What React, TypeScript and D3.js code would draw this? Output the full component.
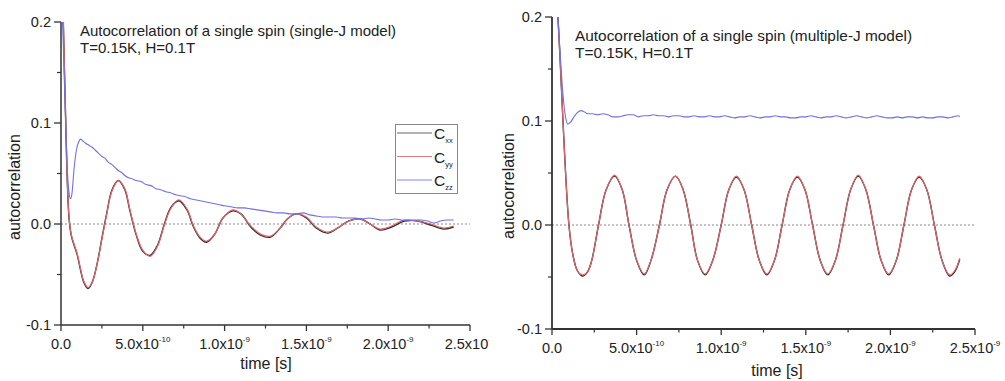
import React from 'react';
import * as d3 from 'd3';

// ---------- data (time in ns, value = autocorrelation) ----------
const xTickValues = [0, 0.5, 1.0, 1.5, 2.0, 2.5];
const xTickMantissa = ['0.0', '5.0x10', '1.0x10', '1.5x10', '2.0x10', '2.5x10'];
const xTickExponent = ['', '-10', '-9', '-9', '-9', '-9'];
const xMinorTicks = [0.25, 0.75, 1.25, 1.75, 2.25];
const yTickValues = [-0.1, 0, 0.1, 0.2];
const yTickLabels = ['-0.1', '0.0', '0.1', '0.2'];
const yMinorTicks = [-0.05, 0.05, 0.15];
const legendSubscripts = ['xx', 'yy', 'zz'];
const titleLeft = ['Autocorrelation of a single spin (single-J model)', 'T=0.15K, H=0.1T'];
const titleRight = ['Autocorrelation of a single spin (multiple-J model)', 'T=0.15K, H=0.1T'];
const xLabel = 'time [s]';
const yLabel = 'autocorrelation';

const leftCxx: [number, number][] = [
  [0, 0.3], [0.02, 0.16], [0.035, 0.06], [0.05, 0.004], [0.065, -0.013], [0.08, -0.021], [0.1, -0.031],
  [0.12, -0.046], [0.14, -0.058], [0.165, -0.064], [0.19, -0.058], [0.22, -0.04], [0.25, -0.014],
  [0.28, 0.011], [0.31, 0.033], [0.35, 0.043], [0.39, 0.034], [0.42, 0.014], [0.46, -0.011],
  [0.5, -0.027], [0.545, -0.031], [0.59, -0.021], [0.63, -0.001], [0.67, 0.016], [0.72, 0.023],
  [0.77, 0.014], [0.81, -0.003], [0.85, -0.014], [0.89, -0.018], [0.94, -0.01], [0.99, 0.006],
  [1.05, 0.013], [1.1, 0.01], [1.16, -0.003], [1.22, -0.011], [1.28, -0.013], [1.34, -0.004],
  [1.39, 0.006], [1.44, 0.01], [1.5, 0.006], [1.56, -0.004], [1.63, -0.009], [1.7, -0.003],
  [1.76, 0.003], [1.83, 0.005], [1.89, 0.0], [1.95, -0.006], [2.02, -0.003], [2.1, 0.003],
  [2.18, 0.003], [2.26, -0.001], [2.34, -0.005], [2.4, -0.003],
];
const leftCyy: [number, number][] = [
  [0, 0.3], [0.02, 0.16], [0.035, 0.06], [0.05, 0.005], [0.065, -0.012], [0.08, -0.02], [0.1, -0.03],
  [0.12, -0.045], [0.14, -0.057], [0.165, -0.063], [0.19, -0.058], [0.22, -0.04], [0.25, -0.015],
  [0.28, 0.01], [0.31, 0.032], [0.35, 0.043], [0.39, 0.035], [0.42, 0.015], [0.46, -0.01],
  [0.5, -0.026], [0.545, -0.032], [0.59, -0.022], [0.63, -0.002], [0.67, 0.015], [0.72, 0.024],
  [0.77, 0.015], [0.81, -0.002], [0.85, -0.013], [0.89, -0.017], [0.94, -0.01], [0.99, 0.006],
  [1.05, 0.014], [1.1, 0.01], [1.16, -0.002], [1.22, -0.01], [1.28, -0.012], [1.34, -0.004],
  [1.39, 0.006], [1.44, 0.01], [1.5, 0.007], [1.56, -0.003], [1.63, -0.008], [1.7, -0.003],
  [1.76, 0.003], [1.83, 0.005], [1.89, 0.0], [1.95, -0.005], [2.02, -0.002], [2.1, 0.004],
  [2.18, 0.003], [2.26, 0.0], [2.34, -0.004], [2.4, -0.002],
];
const leftCzz: [number, number][] = [
  [0, 0.28], [0.01, 0.2], [0.025, 0.12], [0.04, 0.05], [0.05, 0.03], [0.058, 0.025], [0.066, 0.029],
  [0.08, 0.055], [0.095, 0.074], [0.11, 0.082], [0.12, 0.084], [0.135, 0.082], [0.15, 0.08],
  [0.17, 0.078], [0.19, 0.076], [0.21, 0.073], [0.23, 0.07], [0.25, 0.067], [0.27, 0.065],
  [0.29, 0.061], [0.31, 0.059], [0.33, 0.056], [0.35, 0.053], [0.37, 0.051], [0.39, 0.048],
  [0.41, 0.046], [0.43, 0.045], [0.46, 0.043], [0.49, 0.042], [0.52, 0.039], [0.55, 0.038],
  [0.58, 0.035], [0.61, 0.034], [0.64, 0.032], [0.67, 0.031], [0.7, 0.029], [0.73, 0.028],
  [0.76, 0.027], [0.79, 0.025], [0.82, 0.024], [0.85, 0.023], [0.88, 0.022], [0.91, 0.021],
  [0.94, 0.02], [0.97, 0.019], [1.0, 0.018], [1.04, 0.017], [1.08, 0.016], [1.12, 0.016],
  [1.16, 0.015], [1.2, 0.014], [1.24, 0.013], [1.28, 0.012], [1.32, 0.011], [1.36, 0.011],
  [1.4, 0.01], [1.44, 0.01], [1.48, 0.011], [1.52, 0.009], [1.56, 0.008], [1.6, 0.007],
  [1.64, 0.007], [1.68, 0.007], [1.72, 0.006], [1.76, 0.006], [1.8, 0.006], [1.84, 0.005],
  [1.88, 0.006], [1.92, 0.005], [1.96, 0.004], [2.0, 0.004], [2.04, 0.005], [2.08, 0.004],
  [2.12, 0.003], [2.16, 0.004], [2.2, 0.004], [2.24, 0.003], [2.28, 0.001], [2.32, 0.003],
  [2.36, 0.004], [2.4, 0.004],
];

const rightCxx: [number, number][] = [
  [0, 0.29], [0.035, 0.2], [0.1, 0.0], [0.125, -0.03], [0.15, -0.044], [0.18, -0.049], [0.21, -0.045],
  [0.235, -0.034], [0.275, 0.0], [0.32, 0.034], [0.37, 0.047], [0.415, 0.034], [0.455, 0.0],
  [0.5, -0.034], [0.545, -0.048], [0.585, -0.034], [0.635, 0.0], [0.68, 0.034], [0.73, 0.047],
  [0.775, 0.034], [0.82, 0.0], [0.86, -0.034], [0.905, -0.048], [0.95, -0.034], [1.0, 0.0],
  [1.045, 0.034], [1.09, 0.046], [1.135, 0.034], [1.18, 0.0], [1.225, -0.034], [1.27, -0.048],
  [1.315, -0.034], [1.36, 0.0], [1.405, 0.034], [1.45, 0.046], [1.495, 0.034], [1.54, 0.0],
  [1.585, -0.034], [1.63, -0.048], [1.675, -0.034], [1.72, 0.0], [1.765, 0.034], [1.81, 0.047],
  [1.855, 0.034], [1.9, 0.0], [1.945, -0.034], [1.99, -0.048], [2.035, -0.034], [2.08, 0.0],
  [2.125, 0.034], [2.17, 0.046], [2.215, 0.034], [2.26, 0.0], [2.305, -0.034], [2.35, -0.049],
  [2.38, -0.045], [2.41, -0.033],
];
const rightCyy: [number, number][] = [
  [0, 0.29], [0.035, 0.2], [0.1, 0.0], [0.125, -0.03], [0.15, -0.044], [0.18, -0.048], [0.21, -0.045],
  [0.235, -0.034], [0.275, 0.0], [0.32, 0.034], [0.37, 0.048], [0.415, 0.034], [0.455, 0.0],
  [0.5, -0.034], [0.545, -0.047], [0.585, -0.034], [0.635, 0.0], [0.68, 0.034], [0.73, 0.047],
  [0.775, 0.034], [0.82, 0.0], [0.86, -0.034], [0.905, -0.047], [0.95, -0.034], [1.0, 0.0],
  [1.045, 0.034], [1.09, 0.047], [1.135, 0.034], [1.18, 0.0], [1.225, -0.034], [1.27, -0.047],
  [1.315, -0.034], [1.36, 0.0], [1.405, 0.034], [1.45, 0.047], [1.495, 0.034], [1.54, 0.0],
  [1.585, -0.034], [1.63, -0.047], [1.675, -0.034], [1.72, 0.0], [1.765, 0.034], [1.81, 0.048],
  [1.855, 0.034], [1.9, 0.0], [1.945, -0.034], [1.99, -0.047], [2.035, -0.034], [2.08, 0.0],
  [2.125, 0.034], [2.17, 0.047], [2.215, 0.034], [2.26, 0.0], [2.305, -0.034], [2.35, -0.048],
  [2.38, -0.044], [2.41, -0.032],
];
const rightCzz: [number, number][] = [
  [0, 0.3], [0.02, 0.24], [0.035, 0.2], [0.05, 0.16], [0.065, 0.125], [0.08, 0.104], [0.094, 0.097],
  [0.11, 0.099], [0.13, 0.104], [0.15, 0.108], [0.17, 0.11], [0.19, 0.109], [0.21, 0.107],
  [0.24, 0.107], [0.27, 0.106], [0.3, 0.107], [0.33, 0.106], [0.36, 0.104], [0.39, 0.104],
  [0.42, 0.105], [0.45, 0.106], [0.48, 0.106], [0.51, 0.104], [0.54, 0.105], [0.57, 0.105],
  [0.6, 0.106], [0.63, 0.105], [0.66, 0.105], [0.69, 0.104], [0.72, 0.105], [0.75, 0.105],
  [0.78, 0.104], [0.81, 0.104], [0.84, 0.105], [0.87, 0.104], [0.9, 0.104], [0.93, 0.105],
  [0.96, 0.104], [0.99, 0.104], [1.02, 0.105], [1.05, 0.104], [1.08, 0.103], [1.11, 0.104],
  [1.14, 0.104], [1.17, 0.105], [1.2, 0.104], [1.23, 0.103], [1.26, 0.104], [1.29, 0.104],
  [1.32, 0.105], [1.35, 0.104], [1.38, 0.104], [1.41, 0.103], [1.44, 0.103], [1.47, 0.104],
  [1.5, 0.104], [1.53, 0.105], [1.56, 0.104], [1.59, 0.103], [1.62, 0.104], [1.65, 0.104],
  [1.68, 0.105], [1.71, 0.104], [1.74, 0.103], [1.77, 0.104], [1.8, 0.105], [1.83, 0.104],
  [1.86, 0.103], [1.89, 0.104], [1.92, 0.105], [1.95, 0.104], [1.98, 0.103], [2.01, 0.103],
  [2.04, 0.104], [2.07, 0.103], [2.1, 0.104], [2.13, 0.104], [2.16, 0.103], [2.19, 0.104],
  [2.22, 0.103], [2.25, 0.103], [2.28, 0.104], [2.31, 0.104], [2.34, 0.103], [2.37, 0.104],
  [2.4, 0.105], [2.41, 0.104],
];

// ---------- styling ----------
const FONT = '"Liberation Sans", Arial, sans-serif';
const AXIS = '#333';
const TEXT = '#222';
const COL_X = '#2a2a2a';
const COL_Y = '#e2646c';
const COL_Z = '#7070e0';

type Panel = {
  id: string;
  x0: number; x1: number; yTop: number; yBot: number;
  title: string[]; titleX: number; titleY: number; titleSize: number;
  yLabelX: number; yLabelY: number;
  xLabelX: number; xLabelY: number; tickLabelY: number;
  clipX: number; clipW: number; legend: boolean;
  cxx: [number, number][]; cyy: [number, number][]; czz: [number, number][];
  axisW: number;
};

const panels: Panel[] = [
  {
    id: 'L', x0: 61, x1: 470, yTop: 22, yBot: 325,
    title: titleLeft, titleX: 80, titleY: 36, titleSize: 15,
    yLabelX: 20, yLabelY: 187, xLabelX: 266, xLabelY: 369, tickLabelY: 349,
    clipX: 0, clipW: 489, legend: true, cxx: leftCxx, cyy: leftCyy, czz: leftCzz, axisW: 1.5,
  },
  {
    id: 'R', x0: 552, x1: 975, yTop: 17, yBot: 329,
    title: titleRight, titleX: 575, titleY: 41, titleSize: 15.4,
    yLabelX: 514, yLabelY: 186, xLabelX: 777, xLabelY: 376, tickLabelY: 353,
    clipX: 495, clipW: 510, legend: false, cxx: rightCxx, cyy: rightCyy, czz: rightCzz, axisW: 1.8,
  },
];

function PanelView({ p }: { p: Panel }) {
  const x = d3.scaleLinear().domain([0, 2.5]).range([p.x0, p.x1]);
  const y = d3.scaleLinear().domain([-0.1, 0.2]).range([p.yBot, p.yTop]);
  const curveLine = d3.line<[number, number]>().x(d => x(d[0])).y(d => y(d[1])).curve(d3.curveCatmullRom);
  const rawLine = d3.line<[number, number]>().x(d => x(d[0])).y(d => y(d[1])).curve(d3.curveMonotoneX);
  const clipId = 'plot-' + p.id;
  const panelClip = 'panel-' + p.id;
  return (
    <g clipPath={`url(#${panelClip})`}>
      <defs>
        <clipPath id={clipId}>
          <rect x={p.x0} y={y(0.2)} width={p.x1 - p.x0 + 10} height={y(-0.1) - y(0.2)} />
        </clipPath>
        <clipPath id={panelClip}>
          <rect x={p.clipX} y={0} width={p.clipW} height={381} />
        </clipPath>
      </defs>
      {/* zero dotted line */}
      <line x1={x(0)} x2={x(2.5)} y1={y(0)} y2={y(0)} stroke="#888" strokeWidth={1} strokeDasharray="2,2" />
      <g clipPath={`url(#${clipId})`} fill="none" strokeLinejoin="round">
        <path d={curveLine(p.cxx) || ''} stroke={COL_X} strokeWidth={1.4} />
        <path d={curveLine(p.cyy) || ''} stroke={COL_Y} strokeWidth={1.2} />
        <path d={rawLine(p.czz) || ''} stroke={COL_Z} strokeWidth={1.1} />
      </g>
      {/* axes */}
      <line x1={p.x0} x2={p.x0} y1={p.yTop} y2={p.yBot} stroke={AXIS} strokeWidth={p.axisW} />
      <line x1={p.x0} x2={p.x1} y1={p.yBot} y2={p.yBot} stroke={AXIS} strokeWidth={p.axisW} />
      {yTickValues.map((v, i) => (
        <g key={'yt' + i}>
          <line x1={p.x0 - 7} x2={p.x0} y1={y(v)} y2={y(v)} stroke={AXIS} strokeWidth={1.3} />
          <text x={p.x0 - 10} y={y(v) + 5} textAnchor="end" fontSize={14.5} fill={TEXT}>{yTickLabels[i]}</text>
        </g>
      ))}
      {yMinorTicks.map((v, i) => (
        <line key={'ym' + i} x1={p.x0 - 4} x2={p.x0} y1={y(v)} y2={y(v)} stroke={AXIS} strokeWidth={1.2} />
      ))}
      {xTickValues.map((v, i) => (
        <g key={'xt' + i}>
          <line x1={x(v)} x2={x(v)} y1={p.yBot} y2={p.yBot + 6} stroke={AXIS} strokeWidth={1.3} />
          <text x={x(v)} y={p.tickLabelY} textAnchor="middle" fontSize={14.5} fill={TEXT}>
            {xTickMantissa[i]}
            {xTickExponent[i] && <tspan fontSize={8} dy={-7}>{xTickExponent[i]}</tspan>}
          </text>
        </g>
      ))}
      {xMinorTicks.map((v, i) => (
        <line key={'xm' + i} x1={x(v)} x2={x(v)} y1={p.yBot} y2={p.yBot + 3.5} stroke={AXIS} strokeWidth={1.2} />
      ))}
      {/* labels */}
      <text x={p.xLabelX} y={p.xLabelY} textAnchor="middle" fontSize={16} fill={TEXT}>{xLabel}</text>
      <text transform={`translate(${p.yLabelX},${p.yLabelY}) rotate(-90)`} textAnchor="middle" fontSize={16} fill={TEXT}>{yLabel}</text>
      {p.title.map((t, i) => (
        <text key={'ti' + i} x={p.titleX} y={p.titleY + i * 17} fontSize={p.titleSize} fill={TEXT}>{t}</text>
      ))}
      {p.legend && (
        <g>
          <rect x={395.5} y={124.5} width={62} height={69} fill="white" stroke="#888" strokeWidth={1} />
          {[COL_X, COL_Y, COL_Z].map((c, i) => (
            <g key={'lg' + i}>
              <line x1={397} x2={432} y1={133 + i * 23.5} y2={133 + i * 23.5}
                stroke={i === 0 ? '#666' : i === 1 ? '#e07a80' : '#8585e5'} strokeWidth={1.2} />
              <text x={434} y={139 + i * 23.5} fontSize={15.5} fill={TEXT}>
                C<tspan fontSize={7.5} dy={4}>{legendSubscripts[i]}</tspan>
              </text>
            </g>
          ))}
        </g>
      )}
    </g>
  );
}

export default function App() {
  return (
    <svg width={1005} height={381} style={{ position: 'absolute', left: 0, top: 0, background: 'white' }}
      fontFamily={FONT}>
      <rect x={0} y={0} width={1005} height={381} fill="white" />
      {panels.map(p => <PanelView key={p.id} p={p} />)}
    </svg>
  );
}
